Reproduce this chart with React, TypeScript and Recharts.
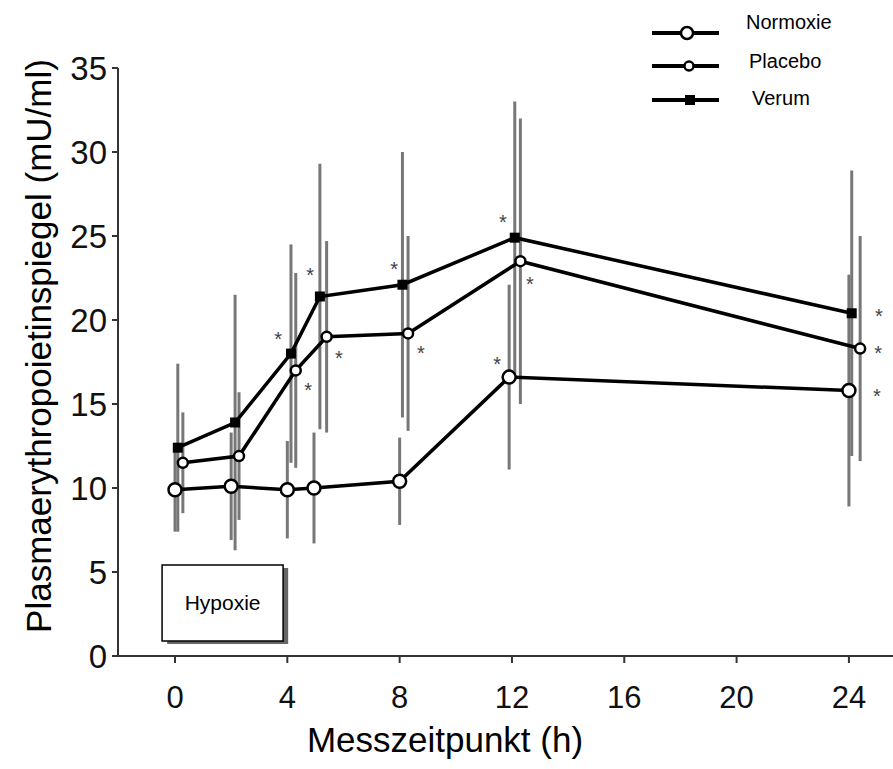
import {
  ComposedChart,
  Line,
  Scatter,
  XAxis,
  YAxis,
  ErrorBar,
  ReferenceArea,
  Legend,
} from "recharts";

// Messzeitpunkte (h), pro Gruppe leicht versetzt wie in der Vorlage
const normoxieHours = [0, 2, 4, 4.95, 8, 11.9, 24];
const normoxieValues = [9.9, 10.1, 9.9, 10.0, 10.4, 16.6, 15.8];
const normoxieErr = [2.5, 3.2, 2.9, 3.3, 2.6, 5.5, 6.9];

const placeboHours = [0.28, 2.28, 4.3, 5.4, 8.3, 12.3, 24.4];
const placeboValues = [11.5, 11.9, 17.0, 19.0, 19.2, 23.5, 18.3];
const placeboErr = [3.0, 3.8, 5.8, 5.7, 5.8, 8.5, 6.7];

const verumHours = [0.1, 2.14, 4.13, 5.16, 8.1, 12.1, 24.1];
const verumValues = [12.4, 13.9, 18.0, 21.4, 22.1, 24.9, 20.4];
const verumErr = [5.0, 7.6, 6.5, 7.9, 7.9, 8.1, 8.5];

// Signifikanz-Sternchen
const starHours = [4.81, 3.67, 5.84, 4.74, 7.8, 8.76, 11.68, 12.64, 11.47, 25.07, 25.04, 25.0];
const starValues = [22.9, 19.1, 18.0, 16.1, 23.3, 18.3, 26.1, 22.4, 17.6, 20.5, 18.3, 15.7];

const xTicks = [0, 4, 8, 12, 16, 20, 24];
const yTicks = [0, 5, 10, 15, 20, 25, 30, 35];

const FONT = "'Liberation Sans', Arial, sans-serif";

const toRows = (hours: number[], values: number[], err: number[]) =>
  hours.map((h, i) => ({ h, v: values[i], e: err[i] }));

const normoxie = toRows(normoxieHours, normoxieValues, normoxieErr);
const placebo = toRows(placeboHours, placeboValues, placeboErr);
const verum = toRows(verumHours, verumValues, verumErr);
const stars = starHours.map((h, i) => ({ h, v: starValues[i] }));

const circleDot = (r: number) => (props: any) => {
  const { cx, cy, index } = props;
  if (cx == null || cy == null) return <g key={index} />;
  return (
    <circle key={index} cx={cx} cy={cy} r={r} fill="#fff" stroke="#000" strokeWidth={2.5} />
  );
};

const squareDot = (props: any) => {
  const { cx, cy, index } = props;
  if (cx == null || cy == null) return <g key={index} />;
  return <rect key={index} x={cx - 5} y={cy - 5} width={10} height={10} fill="#000" />;
};

const starShape = (props: any) => {
  const { cx, cy } = props;
  return (
    <text x={cx} y={cy + 11} textAnchor="middle" fontSize={20} fill="#444" fontFamily={FONT}>
      *
    </text>
  );
};

const legendItems = [
  { name: "Normoxie", y: 33, ty: 22, tx: 106, marker: "big" },
  { name: "Placebo", y: 66, ty: 61, tx: 109, marker: "small" },
  { name: "Verum", y: 100, ty: 98, tx: 112, marker: "square" },
];

const renderLegend = () => (
  <svg width={253} height={120} style={{ display: "block" }}>
    {legendItems.map((it) => (
      <g key={it.name}>
        <line x1={12} x2={79} y1={it.y} y2={it.y} stroke="#000" strokeWidth={4} />
        {it.marker === "big" && (
          <circle cx={47} cy={it.y} r={6} fill="#fff" stroke="#000" strokeWidth={2.5} />
        )}
        {it.marker === "small" && (
          <circle cx={49} cy={it.y} r={4.5} fill="#fff" stroke="#000" strokeWidth={2.5} />
        )}
        {it.marker === "square" && <rect x={45} y={it.y - 5} width={10} height={10} fill="#000" />}
        <text
          x={it.tx}
          y={it.ty}
          dominantBaseline="central"
          fontSize={20}
          fontFamily={FONT}
          fill="#000"
        >
          {it.name}
        </text>
      </g>
    ))}
  </svg>
);

const yTitle = () => (
  <text
    x={38}
    y={346}
    transform="rotate(-90 38 346)"
    textAnchor="middle"
    dominantBaseline="central"
    fontSize={35}
    fontFamily={FONT}
    fill="#000"
  >
    Plasmaerythropoietinspiegel (mU/ml)
  </text>
);

const xTitle = () => (
  <text x={445} y={752} textAnchor="middle" fontSize={35} fontFamily={FONT} fill="#000">
    Messzeitpunkt (h)
  </text>
);

export default function App() {
  return (
    <div style={{ position: "absolute", left: 0, top: 0, background: "#fff" }}>
      <ComposedChart
        width={893}
        height={769}
        margin={{ top: 68, right: 0, bottom: 0, left: 0 }}
        style={{ fontFamily: FONT }}
      >
        <XAxis
          dataKey="h"
          type="number"
          domain={[-2.03, 25.57]}
          ticks={xTicks}
          allowDataOverflow
          height={113}
          tickSize={7}
          tickMargin={23}
          tick={{ fontSize: 31, fill: "#111", fontFamily: FONT }}
          axisLine={{ stroke: "#333", strokeWidth: 2 }}
          tickLine={{ stroke: "#333", strokeWidth: 2 }}
          label={xTitle}
        />
        <YAxis
          type="number"
          domain={[0, 35]}
          ticks={yTicks}
          width={118}
          tickSize={6}
          tickMargin={5}
          tick={{ fontSize: 33, fill: "#111", fontFamily: FONT }}
          axisLine={{ stroke: "#333", strokeWidth: 2 }}
          tickLine={{ stroke: "#333", strokeWidth: 2 }}
          label={yTitle}
        />

        {/* Hypoxie-Kasten mit Schatten */}
        <ReferenceArea x1={-0.28} x2={4.03} y1={0.72} y2={5.24} fill="#666" fillOpacity={1} stroke="none" />
        <ReferenceArea
          x1={-0.46}
          x2={3.85}
          y1={0.9}
          y2={5.42}
          fill="#fff"
          fillOpacity={1}
          stroke="#000"
          strokeWidth={1.5}
          label={{ value: "Hypoxie", position: "center", fontSize: 21, fill: "#000", fontFamily: FONT }}
        />

        {/* Fehlerbalken hinter den Linien */}
        <Line data={normoxie} dataKey="v" stroke="none" dot={false} activeDot={false} legendType="none" isAnimationActive={false}>
          <ErrorBar dataKey="e" width={0} stroke="#777" strokeWidth={3} direction="y" />
        </Line>
        <Line data={placebo} dataKey="v" stroke="none" dot={false} activeDot={false} legendType="none" isAnimationActive={false}>
          <ErrorBar dataKey="e" width={0} stroke="#777" strokeWidth={3} direction="y" />
        </Line>
        <Line data={verum} dataKey="v" stroke="none" dot={false} activeDot={false} legendType="none" isAnimationActive={false}>
          <ErrorBar dataKey="e" width={0} stroke="#777" strokeWidth={3} direction="y" />
        </Line>

        <Line data={normoxie} dataKey="v" name="Normoxie" stroke="#000" strokeWidth={3.5} dot={circleDot(6.5)} activeDot={false} isAnimationActive={false} />
        <Line data={placebo} dataKey="v" name="Placebo" stroke="#000" strokeWidth={3.5} dot={circleDot(5)} activeDot={false} isAnimationActive={false} />
        <Line data={verum} dataKey="v" name="Verum" stroke="#000" strokeWidth={3.5} dot={squareDot} activeDot={false} isAnimationActive={false} />

        <Scatter data={stars} dataKey="v" shape={starShape} legendType="none" isAnimationActive={false} />

        <Legend
          layout="vertical"
          verticalAlign="middle"
          align="center"
          content={renderLegend}
          wrapperStyle={{ left: 640, top: 0, width: 253, height: 120 }}
        />
      </ComposedChart>
    </div>
  );
}
